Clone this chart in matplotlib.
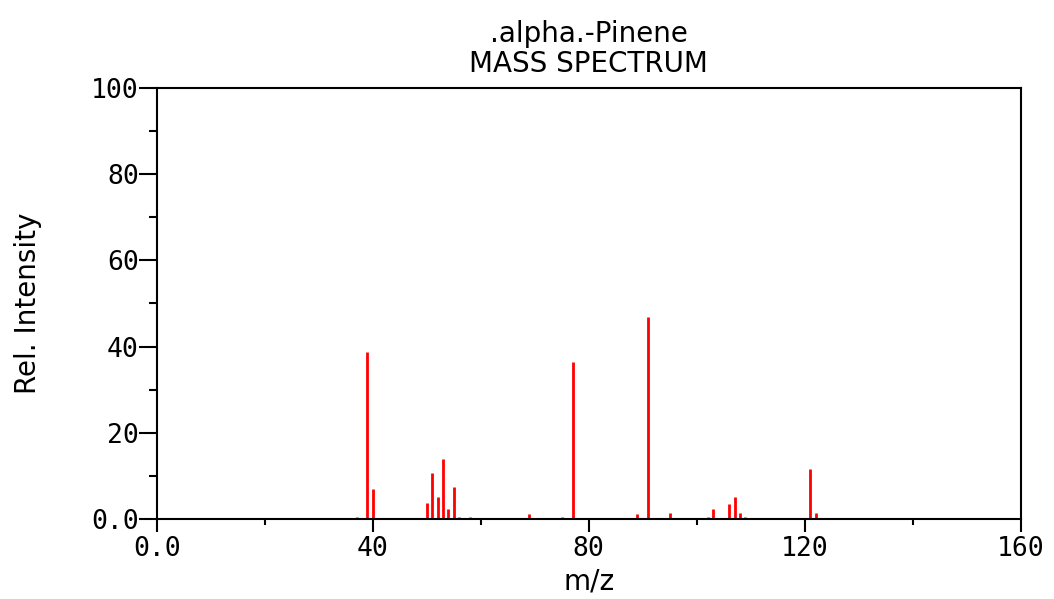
import numpy as np
import matplotlib
matplotlib.use("Agg")
import matplotlib.pyplot as plt
from matplotlib.ticker import MultipleLocator

# peaks
mz = [37, 39, 40, 50, 51, 52, 53, 54, 55, 56, 58,
      69, 75, 77, 87, 89, 91, 95,
      102, 103, 106, 107, 108, 109, 121, 122]
intensity = [0.5, 38.7, 7.0, 3.8, 10.7, 5.2, 14.0, 2.4, 7.5, 0.5, 0.5,
             1.2, 0.5, 36.4, 0.3, 1.2, 46.8, 1.5,
             0.5, 2.4, 3.4, 5.2, 1.5, 0.5, 11.7, 1.5]

title_name = ".alpha.-Pinene"
title_kind = "MASS SPECTRUM"
xticks = [0, 40, 80, 120, 160]
xtick_labels = ["0.0", "40", "80", "120", "160"]
yticks = [0, 20, 40, 60, 80, 100]
ytick_labels = ["0.0", "20", "40", "60", "80", "100"]

plt.rcParams['font.family'] = ['DejaVu Sans']

fig = plt.figure(figsize=(10.54, 5.99), dpi=100)
ax = fig.add_axes([0.1487, 0.1336, 0.8197, 0.7195])

ax.vlines(mz, 0, intensity, color='red', linewidth=2.0)

ax.set_xlim(0, 160)
ax.set_ylim(0, 100)
ax.set_xticks(xticks)
ax.set_xticklabels(xtick_labels, family='DejaVu Sans Mono', fontsize=19)
ax.set_yticks(yticks)
ax.set_yticklabels(ytick_labels, family='DejaVu Sans Mono', fontsize=19)
ax.xaxis.set_minor_locator(MultipleLocator(20))
ax.yaxis.set_minor_locator(MultipleLocator(10))

ax.tick_params(axis='x', which='major', direction='out', length=9.5, width=1.5, pad=3)
ax.tick_params(axis='x', which='minor', direction='out', length=4.5, width=1.5)
ax.tick_params(axis='y', which='major', direction='out', length=13, width=1.5, pad=0)
ax.tick_params(axis='y', which='minor', direction='out', length=6, width=1.5)

for s in ax.spines.values():
    s.set_linewidth(1.5)

ax.set_xlabel("m/z", fontsize=20, labelpad=4)
ax.set_ylabel("Rel. Intensity", fontsize=20, labelpad=35)

fig.text(0.5586, 1 - 42 / 599, title_name, ha='center', va='baseline', fontsize=20)
fig.text(0.5586, 1 - 72 / 599, title_kind, ha='center', va='baseline', fontsize=20)

fig.savefig("out.png", dpi=100)
